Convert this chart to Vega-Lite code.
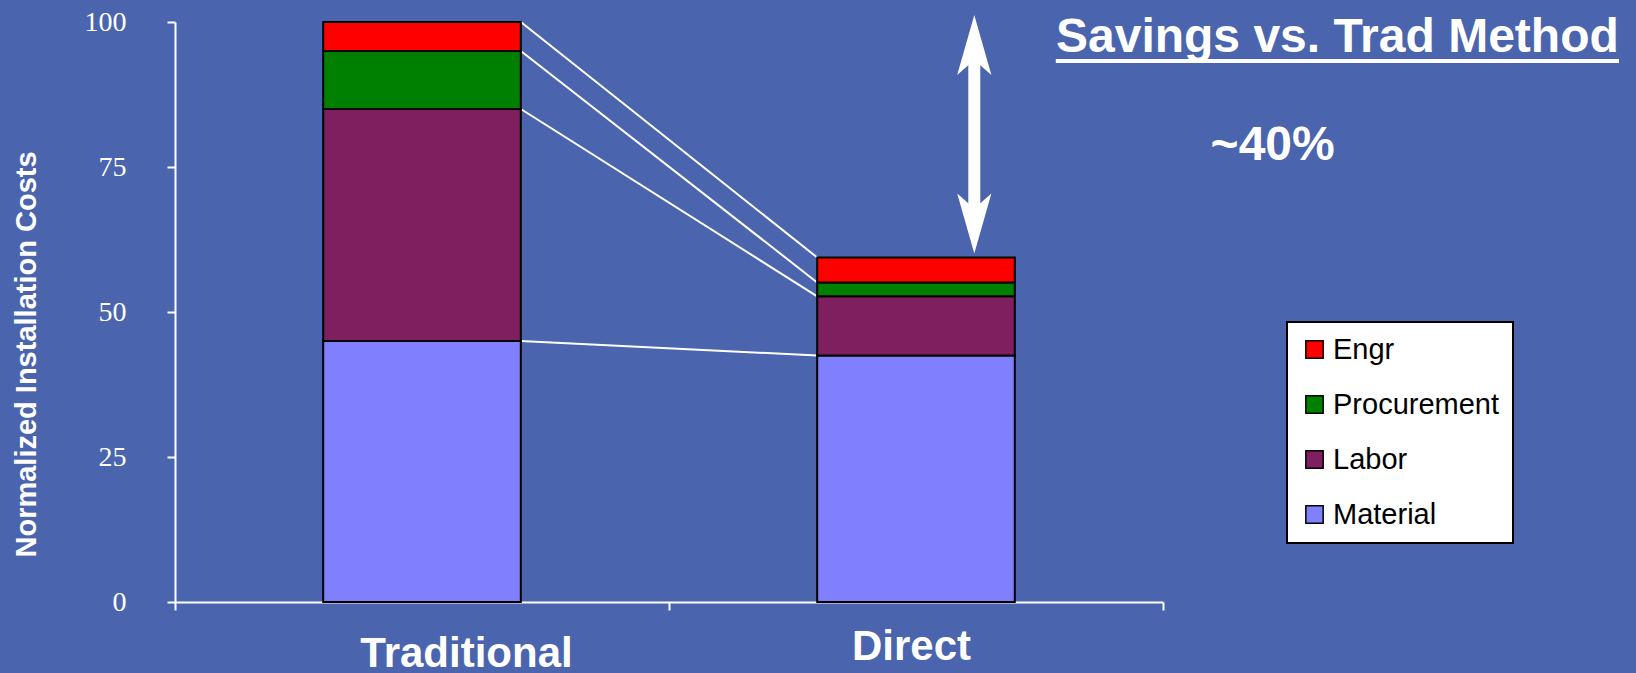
{
  "$schema": "https://vega.github.io/schema/vega-lite/v6.json",
  "width": 988,
  "height": 580,
  "autosize": {"type": "none"},
  "padding": {"left": 175, "top": 22, "right": 473, "bottom": 71},
  "background": "#4A64AE",
  "config": {"view": {"stroke": null}, "font": "Liberation Sans"},
  "data": {"values": [
    {"Method": "Traditional", "Category": "Material", "Cost": 45},
    {"Method": "Traditional", "Category": "Labor", "Cost": 40},
    {"Method": "Traditional", "Category": "Procurement", "Cost": 10},
    {"Method": "Traditional", "Category": "Engr", "Cost": 5},
    {"Method": "Direct", "Category": "Material", "Cost": 42.5},
    {"Method": "Direct", "Category": "Labor", "Cost": 10.2},
    {"Method": "Direct", "Category": "Procurement", "Cost": 2.4},
    {"Method": "Direct", "Category": "Engr", "Cost": 4.3}
  ]},
  "transform": [
    {"calculate": "indexof(['Material','Labor','Procurement','Engr'], datum.Category)", "as": "ord"},
    {"stack": "Cost", "groupby": ["Method"], "sort": [{"field": "ord", "order": "ascending"}], "as": ["c0", "c1"]}
  ],
  "layer": [
    {
      "transform": [{"pivot": "Method", "value": "c1", "groupby": ["Category"]}],
      "mark": {"type": "rule", "color": "white", "strokeWidth": 2},
      "encoding": {
        "x": {"datum": "Traditional", "type": "nominal", "bandPosition": 0.7},
        "x2": {"datum": "Direct", "bandPosition": 0.3},
        "y": {"field": "Traditional", "type": "quantitative"},
        "y2": {"field": "Direct"}
      }
    },
    {
      "mark": {"type": "bar", "stroke": "black", "strokeWidth": 2, "width": {"band": 0.4}},
      "encoding": {
        "x": {
          "field": "Method", "type": "nominal", "sort": ["Traditional", "Direct"],
          "scale": {"paddingInner": 0, "paddingOuter": 0},
          "axis": {
            "title": null, "tickBand": "extent",
            "domainColor": "white", "domainWidth": 2,
            "tickColor": "white", "tickWidth": 2, "tickSize": 8,
            "labelColor": "white", "labelFont": "Liberation Sans", "labelFontWeight": "bold",
            "labelFontSize": 42, "labelAngle": 0, "labelLimit": 500, "labelAlign": "center",
            "labelOffset": {"condition": {"test": "datum.value === 'Traditional'", "value": 44}, "value": -5},
            "labelPadding": {"condition": {"test": "datum.value === 'Traditional'", "value": 43}, "value": 36}
          }
        },
        "y": {
          "field": "c0", "type": "quantitative", "scale": {"domain": [0, 100]},
          "axis": {
            "title": "Normalized Installation Costs", "values": [0, 25, 50, 75, 100], "grid": false,
            "domainColor": "white", "domainWidth": 2,
            "tickColor": "white", "tickWidth": 2, "tickSize": 8,
            "labelColor": "white", "labelFont": "Liberation Serif", "labelFontSize": 28, "labelPadding": 41,
            "titleColor": "white", "titleFont": "Liberation Sans", "titleFontWeight": "bold", "titleFontSize": 29,
            "titleAngle": 270, "titleX": -149, "titleY": 332, "titleAlign": "center", "titleBaseline": "middle"
          }
        },
        "y2": {"field": "c1"},
        "color": {
          "field": "Category", "type": "nominal",
          "scale": {"domain": ["Engr", "Procurement", "Labor", "Material"], "range": ["#FF0000", "#008000", "#7F1F5F", "#8080FF"]},
          "legend": {
            "title": null, "orient": "none", "legendX": 1112, "legendY": 300,
            "fillColor": "white", "strokeColor": "black", "padding": 13, "rowPadding": 25,
            "symbolType": "square", "symbolSize": 300, "symbolStrokeColor": "black", "symbolStrokeWidth": 1.5,
            "labelFont": "Liberation Sans", "labelFontSize": 29, "labelColor": "black", "labelOffset": 4, "labelLimit": 400,
            "encode": {"legend": {"update": {"strokeWidth": {"value": 2}}}}
          }
        }
      }
    },
    {
      "data": {"values": [{}]},
      "mark": {"type": "rule", "color": "white", "strokeWidth": 12},
      "encoding": {
        "x": {"datum": "Direct", "type": "nominal", "bandPosition": 0.618},
        "y": {"datum": 65.5, "type": "quantitative"},
        "y2": {"datum": 95.7}
      }
    },
    {
      "data": {"values": [{}]},
      "mark": {"type": "point", "shape": "M0,0L0.57,2L0,1.5L-0.57,2Z", "size": 3600, "filled": true, "fill": "white", "opacity": 1, "strokeWidth": 0},
      "encoding": {
        "x": {"datum": "Direct", "type": "nominal", "bandPosition": 0.618},
        "y": {"datum": 101.2, "type": "quantitative"}
      }
    },
    {
      "data": {"values": [{}]},
      "mark": {"type": "point", "shape": "M0,0L0.57,-2L0,-1.5L-0.57,-2Z", "size": 3600, "filled": true, "fill": "white", "opacity": 1, "strokeWidth": 0},
      "encoding": {
        "x": {"datum": "Direct", "type": "nominal", "bandPosition": 0.618},
        "y": {"datum": 60.1, "type": "quantitative"}
      }
    },
    {
      "data": {"values": [{"label": "Savings vs. Trad Method"}]},
      "mark": {"type": "text", "color": "white", "font": "Liberation Sans", "fontWeight": "bold", "fontSize": 48, "align": "center", "baseline": "alphabetic"},
      "encoding": {
        "x": {"datum": "Direct", "type": "nominal", "bandPosition": 1.353},
        "y": {"datum": 94.8, "type": "quantitative"},
        "text": {"field": "label"}
      }
    },
    {
      "data": {"values": [{}]},
      "mark": {"type": "rule", "color": "white", "strokeWidth": 4},
      "encoding": {
        "x": {"datum": "Direct", "type": "nominal", "bandPosition": 0.783},
        "x2": {"datum": "Direct", "bandPosition": 1.923},
        "y": {"datum": 93.28, "type": "quantitative"}
      }
    },
    {
      "data": {"values": [{"label": "~40%"}]},
      "mark": {"type": "text", "color": "white", "font": "Liberation Sans", "fontWeight": "bold", "fontSize": 48, "align": "center", "baseline": "alphabetic"},
      "encoding": {
        "x": {"datum": "Direct", "type": "nominal", "bandPosition": 1.222},
        "y": {"datum": 76.2, "type": "quantitative"},
        "text": {"field": "label"}
      }
    }
  ]
}
